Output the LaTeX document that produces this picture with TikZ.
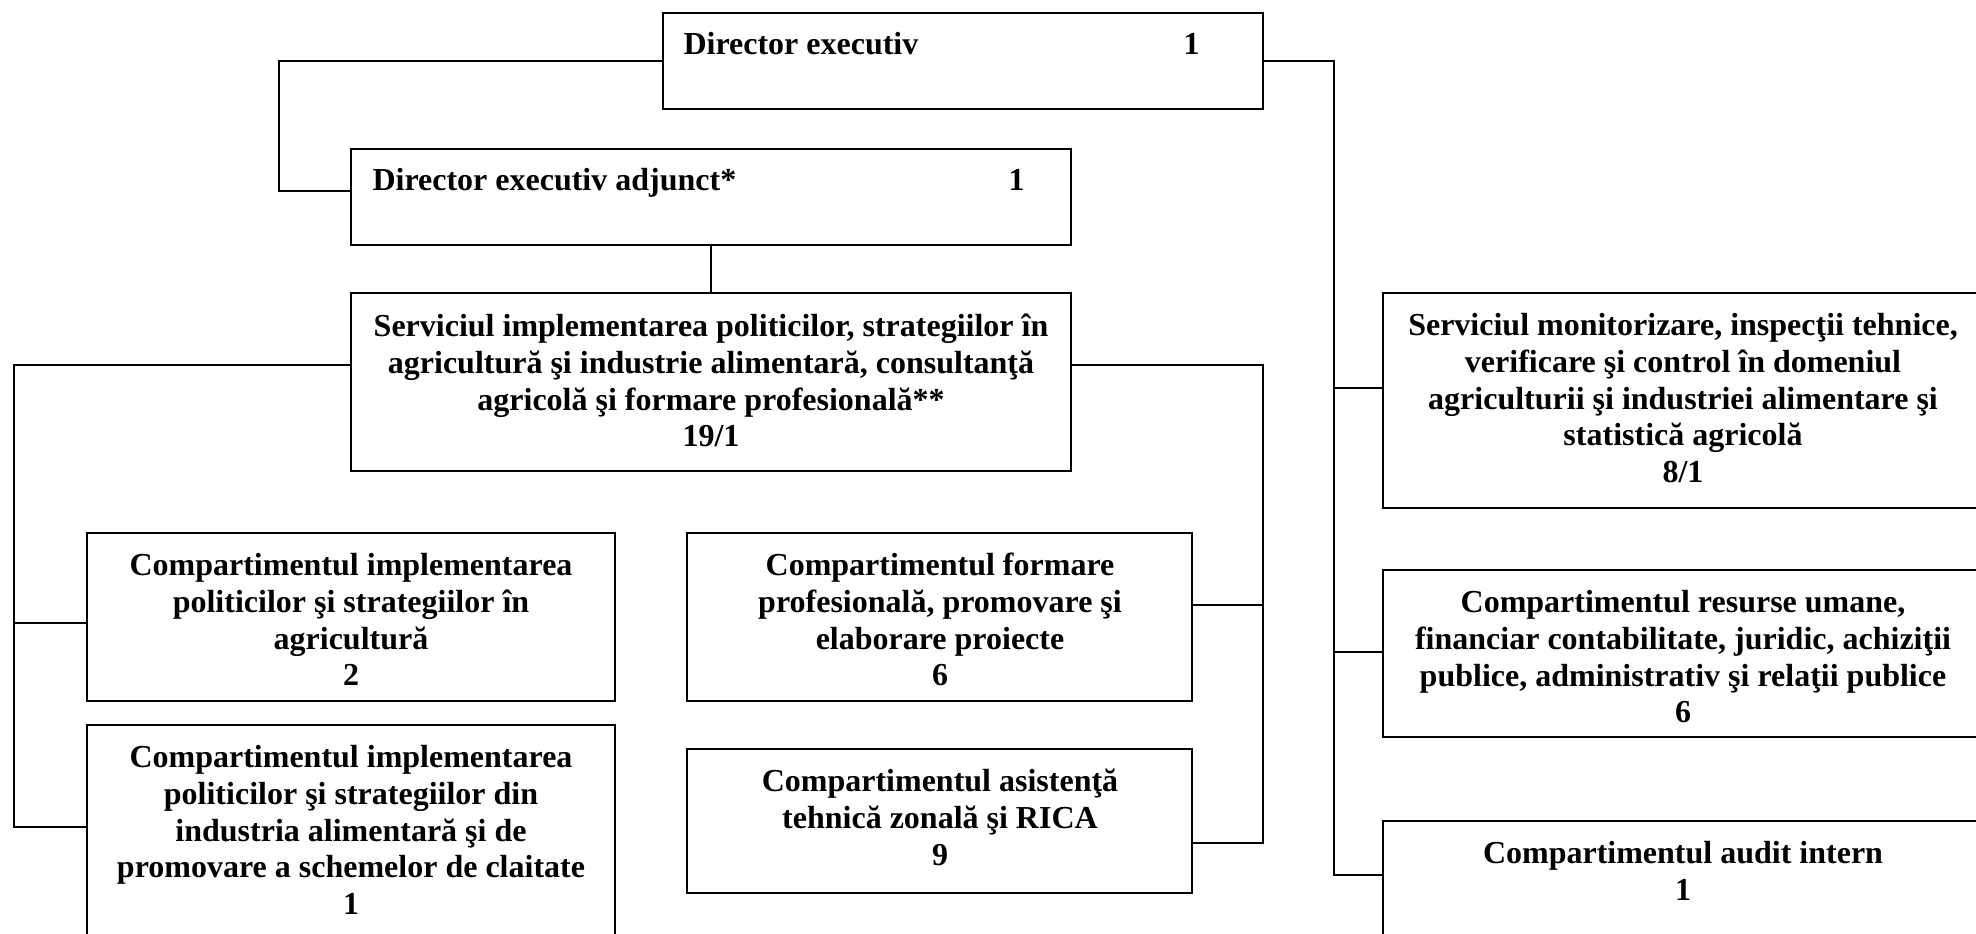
\documentclass[tikz,border=0pt]{standalone}
\usepackage{fontspec}
\setmainfont{Liberation Serif}
\usetikzlibrary{fit}
\newcommand{\firstrule}{\rule{0pt}{10pt}}
\begin{document}
\begin{tikzpicture}[x=0.375pt, y=-0.375pt,
  box/.style={draw, line width=0.75pt, inner sep=0pt, rectangle},
  conn/.style={draw, line width=0.6pt},
  txt/.style={inner sep=0pt, align=center, anchor=north, font=\fontsize{12}{13.8}\selectfont\bfseries},
  ltxt/.style={inner sep=0pt, anchor=base west, font=\fontsize{12}{13.8}\selectfont\bfseries}]
\useasboundingbox (0,0) rectangle (1976,934);
\clip (0,0) rectangle (1976,934);

% boxes
\node[box, fit={(663,13) (1263,109)}] (dir) {};
\node[box, fit={(351,149) (1071,245)}] (adj) {};
\node[box, fit={(351,293) (1071,471)}] (serv) {};
\node[box, fit={(87,533) (615,701)}] (comp1) {};
\node[box, fit={(87,725) (615,960)}] (comp2) {};
\node[box, fit={(687,533) (1192,701)}] (form) {};
\node[box, fit={(687,749) (1192,893)}] (asis) {};
\node[box, fit={(1383,293) (1990,508)}] (mon) {};
\node[box, fit={(1383,570) (1990,737)}] (res) {};
\node[box, fit={(1383,821) (1990,960)}] (aud) {};

% texts
\node[ltxt] (tdir) at (683,55) {Director executiv};
\node[ltxt] (ndir) at (1183,55) {1};
\node[ltxt] (tadj) at (372,191) {Director executiv adjunct*};
\node[ltxt] (nadj) at (1008,191) {1};

\node[txt] (tserv) at (711,309.3) {\firstrule Serviciul implementarea politicilor, strategiilor în\\agricultură şi industrie alimentară, consultanţă\\agricolă şi formare profesională**\\19/1};
\node[txt] (tmon) at (1683,308.3) {\firstrule Serviciul monitorizare, inspecţii tehnice,\\verificare şi control în domeniul\\agriculturii şi industriei alimentare şi\\statistică agricolă\\8/1};
\node[txt] (tcomp1) at (351,548.3) {\firstrule Compartimentul implementarea\\politicilor şi strategiilor în\\agricultură\\2};
\node[txt] (tcomp2) at (351,740.3) {\firstrule Compartimentul implementarea\\politicilor şi strategiilor din\\industria alimentară şi de\\promovare a schemelor de claitate\\1};
\node[txt] (tform) at (940,548.3) {\firstrule Compartimentul formare\\profesională, promovare şi\\elaborare proiecte\\6};
\node[txt] (tasis) at (940,764.3) {\firstrule Compartimentul asistenţă\\tehnică zonală şi RICA\\9};
\node[txt] (tres) at (1683,585.3) {\firstrule Compartimentul resurse umane,\\financiar contabilitate, juridic, achiziţii\\publice, administrativ şi relaţii publice\\6};
\node[txt] (taud) at (1683,836.3) {\firstrule Compartimentul audit intern\\1};

% bus coordinates
\coordinate (busA) at (279,0);
\coordinate (busL) at (14,0);
\coordinate (busS) at (1263,0);
\coordinate (busR) at (1334,0);

% connectors
\draw[conn] (dir.west) -| (busA |- 0,191) -- (adj.west |- 0,191);
\draw[conn] (adj.south) -- (serv.north);
\draw[conn] (dir.east) -| (busR |- 0,875) -- (aud.west |- 0,875);
\draw[conn] (busR |- 0,388) -- (mon.west |- 0,388);
\draw[conn] (busR |- 0,652) -- (res.west |- 0,652);
\draw[conn] (serv.west |- 0,365) -| (busL |- 0,827) -- (comp2.west |- 0,827);
\draw[conn] (busL |- 0,623) -- (comp1.west |- 0,623);
\draw[conn] (serv.east |- 0,365) -| (busS |- 0,843) -- (asis.east |- 0,843);
\draw[conn] (busS |- 0,605) -- (form.east |- 0,605);
\end{tikzpicture}
\end{document}
